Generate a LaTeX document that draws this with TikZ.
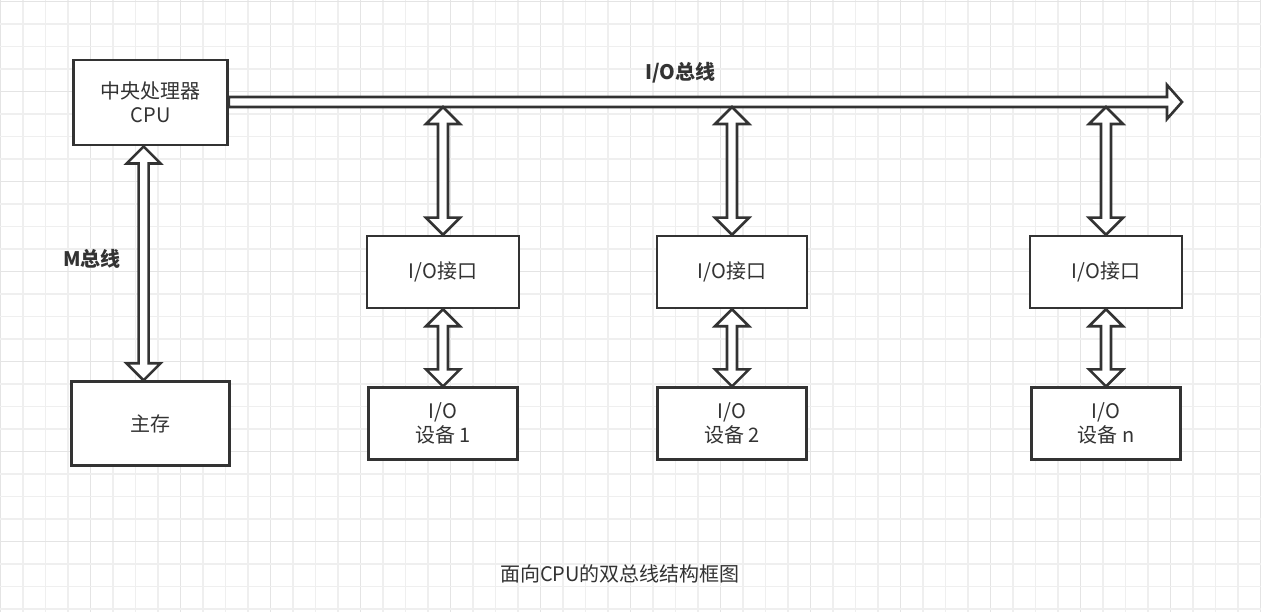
\documentclass[tikz,border=0pt]{standalone}
\usepackage{fontspec}
\setmainfont{Noto Sans CJK SC}
\usetikzlibrary{calc}
\definecolor{ink}{HTML}{333333}
\definecolor{gminor}{HTML}{EFEFEF}
\definecolor{gmajor}{HTML}{E4E4E4}
\newcommand{\fatvert}[2]{%
  \draw[fat] let \p1=(#1), \p2=(#2) in
    (\x1,\y1) -- (\x1+17pt,\y1-17pt) -- (\x1+5pt,\y1-17pt) -- (\x1+5pt,\y2+17pt)
    -- (\x1+17pt,\y2+17pt) -- (\x1,\y2) -- (\x1-17pt,\y2+17pt) -- (\x1-5pt,\y2+17pt)
    -- (\x1-5pt,\y1-17pt) -- (\x1-17pt,\y1-17pt) -- cycle;}
\begin{document}
\begin{tikzpicture}[x=1pt,y=-1pt,
  box/.style={draw=ink, line width=2.6pt, fill=white, text=ink, align=center,
    font=\fontsize{20}{24}\selectfont, inner sep=0pt},
  fat/.style={draw=ink, line width=2.6pt, fill=white, line join=miter},
  lbl/.style={text=ink, inner sep=0pt, font=\fontsize{20}{24}\selectfont\bfseries},
  captext/.style={text=ink, inner sep=0pt, font=\fontsize{20}{24}\selectfont}]
\fill[white] (0,0) rectangle (1261,612);
\useasboundingbox (0,0) rectangle (1261,612);
% grid
\foreach \i in {0,...,56} {
  \pgfmathtruncatemacro{\m}{mod(\i,4)}
  \ifnum\m=0 \draw[gmajor, line width=1.2pt] (\i*22.5+0.5,0) -- (\i*22.5+0.5,612);
  \else \draw[gminor, line width=1.2pt] (\i*22.5+0.5,0) -- (\i*22.5+0.5,612); \fi }
\foreach \j in {0,...,27} {
  \pgfmathtruncatemacro{\m}{mod(\j,4)}
  \ifnum\m=0 \draw[gmajor, line width=1.2pt] (0,\j*22.5+1.5) -- (1261,\j*22.5+1.5);
  \else \draw[gminor, line width=1.2pt] (0,\j*22.5+1.5) -- (1261,\j*22.5+1.5); \fi }
% boxes
\node[box, minimum width=154pt, minimum height=85pt] (cpu) at (150.6,102.7) {中央处理器\\CPU};
\node[box, minimum width=158pt, minimum height=84pt] (mem) at (150.6,423.6) {主存};
\node[box, minimum width=152pt, minimum height=72pt] (if1) at (443,272) {I/O接口};
\node[box, minimum width=150pt, minimum height=72pt] (if2) at (732,272) {I/O接口};
\node[box, minimum width=152pt, minimum height=72pt] (if3) at (1106,272) {I/O接口};
\node[box, minimum width=149pt, minimum height=72pt] (dev1) at (443,423.7) {I/O\\设备 1};
\node[box, minimum width=149pt, minimum height=72pt] (dev2) at (732,423.7) {I/O\\设备 2};
\node[box, minimum width=149pt, minimum height=72pt] (dev3) at (1106,423.7) {I/O\\设备 n};
% I/O bus
\coordinate (busend) at (1182,102);
\coordinate (busbot) at (1182,107);
\draw[fat] let \p1=(cpu.east), \p2=(busend) in
  (\x1,\y2+5pt) -- (\x2-15pt,\y2+5pt) -- (\x2-15pt,\y2+17pt) -- (\x2,\y2)
  -- (\x2-15pt,\y2-17pt) -- (\x2-15pt,\y2-5pt) -- (\x1,\y2-5pt) -- cycle;
\coordinate (tap1) at (if1.north |- busbot);
\coordinate (tap2) at (if2.north |- busbot);
\coordinate (tap3) at (if3.north |- busbot);
% M bus
\coordinate (mtop) at ($(cpu.south)+(-7,0)$);
\coordinate (mbot) at (mtop |- mem.north);
\fatvert{mtop}{mbot}
\fatvert{tap1}{if1.north}
\fatvert{tap2}{if2.north}
\fatvert{tap3}{if3.north}
\fatvert{if1.south}{dev1.north}
\fatvert{if2.south}{dev2.north}
\fatvert{if3.south}{dev3.north}
% labels
\node[lbl] (iobuslbl) at (680.5,73) {I/O总线};
\node[lbl] (mbuslbl) at (92,259) {M总线};
\node[captext] (caption) at (620,574) {面向CPU的双总线结构框图};
\end{tikzpicture}
\end{document}
